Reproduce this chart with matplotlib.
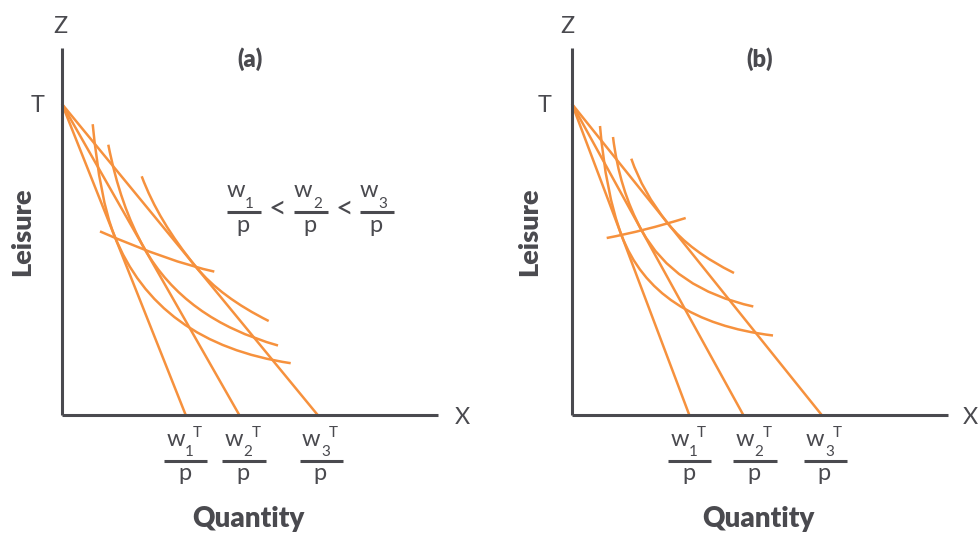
import matplotlib
matplotlib.use("Agg")
import matplotlib.pyplot as plt
from matplotlib.path import Path
from matplotlib.patches import PathPatch
from matplotlib.lines import Line2D

plt.rcParams['font.family'] = ['Lato', 'DejaVu Sans']

# ---------------- data (axis units: pixels-like, origin at axes corner) ----------------
T_LEVEL = 311                      # time endowment T on the leisure axis
X_MAX = 376.3
Y_MAX = 367.3

a_intercepts = [123.7, 177.3, 255.7]   # w_i T / p, panel (a)
b_intercepts = [117.3, 171.3, 249.7]   # w_i T / p, panel (b)

# indifference curves: start, ctrl, tangency, ctrl, end (two quadratic pieces)
a_curve1 = [(30.7, 290.8), (37.9, 215.7), (52.1, 180.1), (95.1, 71.8), (228.7, 51.8)]
a_curve2 = [(46.3, 270.3), (58.3, 208.8), (82.4, 166.5), (122.9, 95.5), (216.0, 69.5)]
a_curve3 = [(79.7, 238.7), (96.5, 193.6), (134.2, 147.8), (158.8, 117.9), (206.7, 94.0)]
a_offer = [(38.0, 183.6), (108.0, 153.0), (152.3, 143.4)]

b_curve1 = [(28.0, 289.0), (33.5, 222.9), (49.4, 180.0), (82.0, 93.7), (201.0, 79.5)]
b_curve2 = [(41.0, 278.0), (47.3, 225.5), (69.7, 184.5), (102.0, 125.8), (181.3, 108.5)]
b_curve3 = [(59.3, 256.3), (70.5, 223.2), (95.9, 191.5), (118.4, 163.5), (162.0, 142.0)]
b_offer = [(34.7, 177.0), (72.2, 184.1), (113.7, 197.0)]

panel_titles = ['(a)', '(b)']
subs = ['1', '2', '3']

# ---------------- style ----------------
W, H = 980, 536
ORANGE = '#f6913d'
TXT = '#4a4a4f'
LW = 1.8

fig = plt.figure(figsize=(W / 100, H / 100), dpi=100)
fig.patch.set_facecolor('white')


def px(x, y):
    return x / W, 1 - y / H


def ftext(x, y, s, **kw):
    kw.setdefault('color', TXT)
    return fig.text(*px(x, y), s, **kw)


def fline(x1, x2, y, lw=2.2):
    fig.add_artist(Line2D([x1 / W, x2 / W], [1 - y / H, 1 - y / H],
                          transform=fig.transFigure, color=TXT, lw=lw,
                          solid_capstyle='butt'))


def curve(ax, pts):
    codes = [Path.MOVETO] + [Path.CURVE3] * (len(pts) - 1)
    ax.add_patch(PathPatch(Path(pts, codes), fill=False, edgecolor=ORANGE,
                           lw=LW, capstyle='butt', clip_on=False))


def frac(cx, yb, hw, sub, sup, wdx, sdx, fs=17, sfs=11, wrise=14.5, srise=4.0):
    fline(cx - hw, cx + hw, yb)
    ftext(cx + wdx, yb - wrise, 'w', ha='center', va='baseline', fontsize=fs)
    ftext(cx + sdx, yb - srise, sub, ha='center', va='baseline', fontsize=sfs)
    if sup:
        ftext(cx + sdx + 8, yb - 23.5, 'T', ha='center', va='baseline', fontsize=sfs)
    ftext(cx - 1, yb + 20, 'p', ha='center', va='baseline', fontsize=fs)


def panel(x0, intercepts, curves, offer):
    ax = fig.add_axes([x0 / W, (H - 415) / H, X_MAX / W, Y_MAX / H])
    ax.set_xlim(0, X_MAX)
    ax.set_ylim(0, Y_MAX)
    for s in ['top', 'right']:
        ax.spines[s].set_visible(False)
    for s in ['left', 'bottom']:
        ax.spines[s].set_color(TXT)
        ax.spines[s].set_linewidth(2.2)
        ax.spines[s].set_capstyle('butt')
    ax.set_xticks([])
    ax.set_yticks([])
    ax.patch.set_alpha(0)
    for xi in intercepts:
        ax.plot([0, xi], [T_LEVEL, 0], color=ORANGE, lw=LW, clip_on=False,
                solid_capstyle='butt')
    for c in curves:
        curve(ax, c)
    curve(ax, offer)
    return ax


panel(62, a_intercepts, [a_curve1, a_curve2, a_curve3], a_offer)
panel(572, b_intercepts, [b_curve1, b_curve2, b_curve3], b_offer)

# ---------------- texts ----------------
for (zx, tx, xx, px_, lx, qx, title, lab_x) in [
        (60.7, 37.3, 462.7, 250, 30, 248.3, panel_titles[0], [185.7, 243.8, 321.3]),
        (567.7, 545.0, 970.0, 760, 536.7, 758.3, panel_titles[1], [689.7, 755.0, 825.3])]:
    ftext(zx, 33.3, 'Z', ha='center', va='baseline', fontsize=16.8)
    ftext(tx, 111.7, 'T', ha='center', va='baseline', fontsize=16.8)
    ftext(xx, 423.5, 'X', ha='center', va='baseline', fontsize=16.8)
    ftext(px_, 66.5, title, ha='center', va='baseline', fontsize=17, fontweight='heavy')
    fig.text(*px(lx, 232), 'Leisure', ha='center', va='baseline', rotation=90,
             rotation_mode='anchor', fontsize=19.5, fontweight='heavy', color=TXT)
    ftext(qx, 527, 'Quantity', ha='center', va='baseline', fontsize=20, fontweight='heavy')
    for cx, s in zip(lab_x, subs):
        frac(cx, 460.5, 21.7, s, True, -10, 4)

# ratio w1/p < w2/p < w3/p
for cx, s in zip([243.7, 311.3, 377.0], subs):
    frac(cx, 211.7, 17, s, False, -8, 6)
for lx in [277.3, 344.3]:
    ftext(lx, 217.5, '<', ha='center', va='baseline', fontsize=22)

fig.savefig('out.png', dpi=100, facecolor='white')
